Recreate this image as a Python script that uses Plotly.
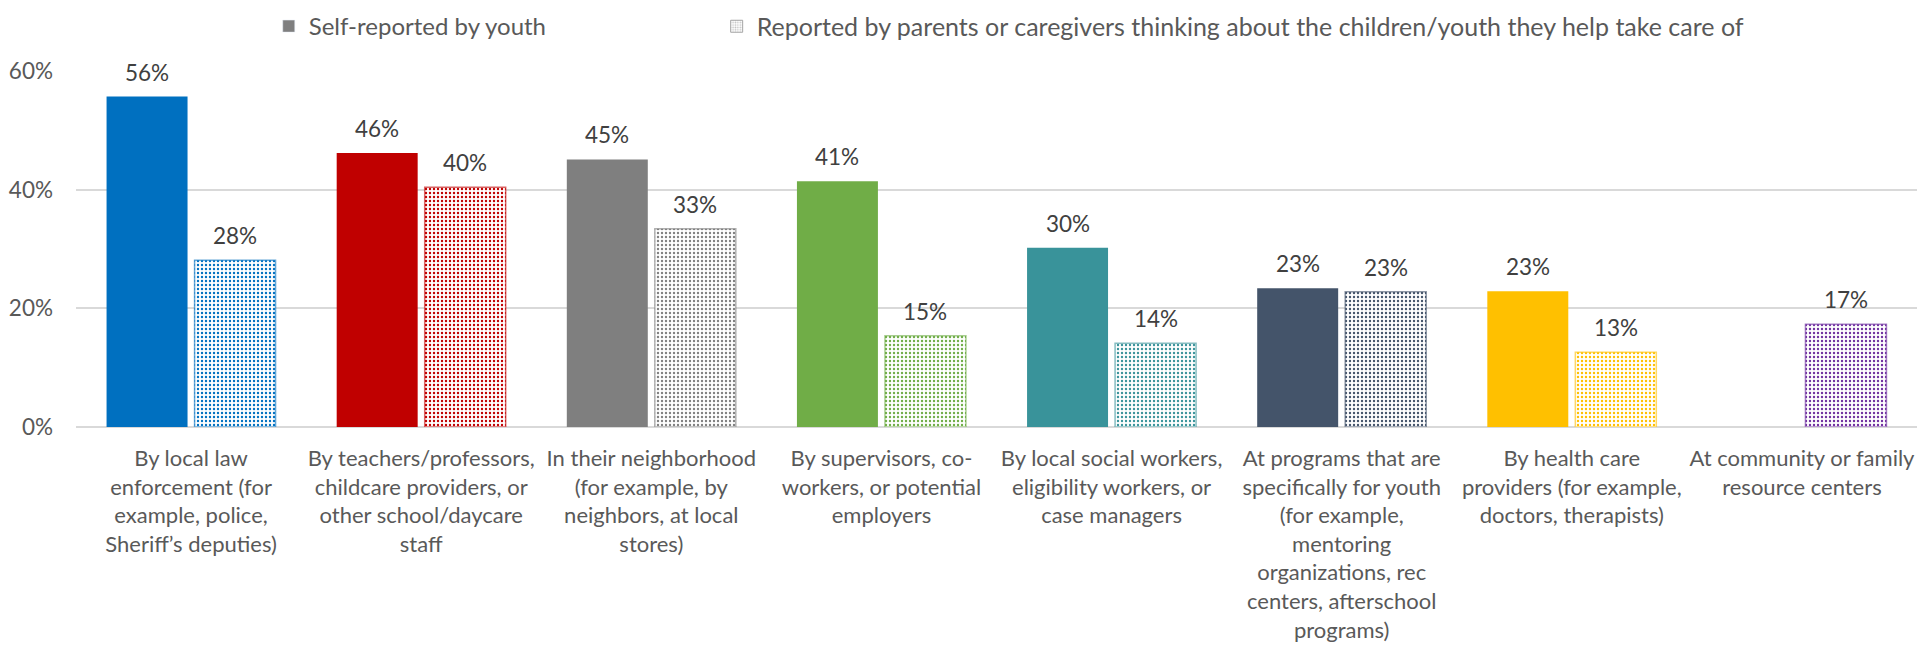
import plotly.graph_objects as go

# Survey categories (x axis, wrapped as drawn)
categories = [
    "By local law<br>enforcement (for<br>example, police,<br>Sheriff’s deputies)",
    "By teachers/professors,<br>childcare providers, or<br>other school/daycare<br>staff",
    "In their neighborhood<br>(for example, by<br>neighbors, at local<br>stores)",
    "By supervisors, co-<br>workers, or potential<br>employers",
    "By local social workers,<br>eligibility workers, or<br>case managers",
    "At programs that are<br>specifically for youth<br>(for example,<br>mentoring<br>organizations, rec<br>centers, afterschool<br>programs)",
    "By health care<br>providers (for example,<br>doctors, therapists)",
    "At community or family<br>resource centers",
]

# Percent of respondents, by reporter
youth_values = [55.7, 46.2, 45.1, 41.4, 30.2, 23.4, 22.9, None]
parent_values = [28.1, 40.4, 33.4, 15.4, 14.1, 22.8, 12.6, 17.3]

series_names = [
    "Self-reported by youth",
    "Reported by parents or caregivers thinking about the children/youth they help take care of",
]

y_ticks = [0, 20, 40, 60]

# One colour per category; the parent series uses the same hue as a dotted fill
colors = ["#0070C0", "#C00000", "#7F7F7F", "#70AD47", "#39939A", "#44546A", "#FFC000", "#7030A0"]


def hex_rgba(h, a):
    h = h.lstrip("#")
    r, g, b = int(h[0:2], 16), int(h[2:4], 16), int(h[4:6], 16)
    return f"rgba({r},{g},{b},{a})"


FONT = "Lato, Calibri, 'Open Sans', sans-serif"
TICK_SIZE = 22
LABEL_SIZE = 22.5
LEGEND_SIZE = 24

fig = go.Figure()

fig.add_trace(go.Bar(
    x=categories, y=youth_values, name=series_names[0], offsetgroup="youth",
    marker=dict(color=colors, line=dict(width=0)),
    showlegend=False, hoverinfo="x+y",
))
fig.add_trace(go.Bar(
    x=categories, y=parent_values, name=series_names[1], offsetgroup="parent",
    marker=dict(
        color="white",
        line=dict(color=[hex_rgba(c, 0.6) for c in colors], width=1.5),
        pattern=dict(shape=".", fgcolor=colors, bgcolor="white", size=4, solidity=0.27, fillmode="replace"),
    ),
    showlegend=False, hoverinfo="x+y",
))

# Legend entries in neutral grey (share the bar slots so they add no width)
fig.add_trace(go.Bar(
    x=[None], y=[None], name=series_names[0], offsetgroup="youth",
    marker=dict(color="#7F7F7F"), showlegend=True, legend="legend",
))
fig.add_trace(go.Bar(
    x=[None], y=[None], name=series_names[1], offsetgroup="parent",
    marker=dict(color="white", line=dict(color="#A6A6A6", width=1),
                pattern=dict(shape=".", fgcolor="#7F7F7F", bgcolor="white", size=3, solidity=0.35)),
    showlegend=True, legend="legend2",
))

# Value labels above each bar
annotations = []
for vals, shift in ((youth_values, -44), (parent_values, 44)):
    for cat, v in zip(categories, vals):
        if v is None:
            continue
        annotations.append(dict(
            x=cat, y=v, xref="x", yref="y", text=f"{v:.0f}%",
            showarrow=False, yanchor="bottom", xshift=shift, yshift=9,
            font=dict(family=FONT, size=LABEL_SIZE, color="#404040"),
        ))

legend_style = dict(
    orientation="h", xanchor="left", y=1.125, yanchor="middle",
    itemwidth=30,
)

fig.update_layout(
    width=1921, height=647,
    margin=dict(l=76, r=4, t=67, b=220),
    paper_bgcolor="white", plot_bgcolor="white",
    barmode="group", bargap=0.235, bargroupgap=0.08,
    font=dict(family=FONT, size=TICK_SIZE, color="#595959"),
    legend=dict(x=0.1047, font=dict(family=FONT, size=LEGEND_SIZE, color="#595959"), **legend_style),
    legend2=dict(x=0.348, font=dict(family=FONT, size=LEGEND_SIZE + 1, color="#595959"), **legend_style),
    annotations=annotations,
    xaxis=dict(
        type="category", showgrid=False, zeroline=False, showline=False,
        ticks="", tickfont=dict(family=FONT, size=TICK_SIZE, color="#595959"),
        ticklabelstandoff=16,
    ),
    yaxis=dict(
        range=[0, 60], tickvals=y_ticks, ticktext=[f"{t}%" for t in y_ticks],
        showgrid=True, gridcolor="#D9D9D9", gridwidth=2,
        zeroline=True, zerolinecolor="#D9D9D9", zerolinewidth=2,
        showline=False, ticks="", ticklabelstandoff=22,
        tickfont=dict(family=FONT, size=LABEL_SIZE, color="#595959"),
    ),
)

fig.write_html("out.html")
